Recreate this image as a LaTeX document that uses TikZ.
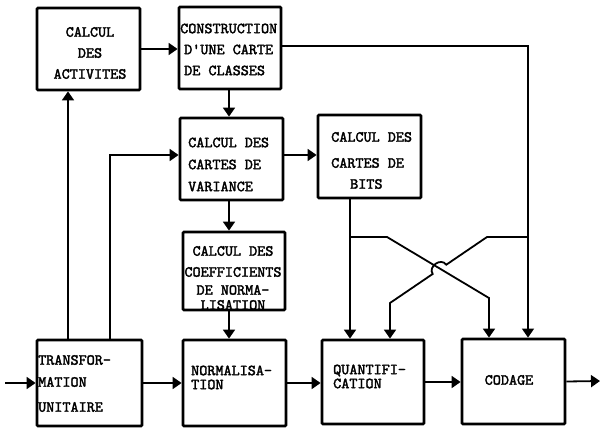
\documentclass[tikz,border=0pt]{standalone}
\usepackage{fontspec}
\newfontfamily\typew{lmmono10-regular}[Extension=.otf, FakeBold=2.2]
\usetikzlibrary{arrows.meta,calc}

\begin{document}
\begin{tikzpicture}[x=1pt, y=-1pt,
  blk/.style={draw, line width=2.8pt, inner sep=0pt, rounded corners=1pt},
  lbl/.style={inner sep=0pt, font=\fontsize{15.4}{21}\selectfont\typew},
  arr/.style={line width=1.8pt, -{Triangle[width=12pt,length=9pt]}}]

\useasboundingbox (0,0) rectangle (602,428);

% Blocks
\node[blk, minimum width=103pt, minimum height=82pt] (act)   at (88.5,49)     {};
\node[blk, minimum width=102pt, minimum height=82pt] (cons)  at (230,48)      {};
\node[blk, minimum width=103pt, minimum height=82pt] (var)   at (231.5,159)   {};
\node[blk, minimum width=103pt, minimum height=83pt] (bits)  at (369.5,156.5) {};
\node[blk, minimum width=102pt, minimum height=78pt] (coef)  at (234,271)     {};
\node[blk, minimum width=105pt, minimum height=86pt] (trans) at (89.5,383)    {};
\node[blk, minimum width=103pt, minimum height=86pt] (norm)  at (234.5,383)   {};
\node[blk, minimum width=102pt, minimum height=84pt] (quant) at (373,382)     {};
\node[blk, minimum width=103pt, minimum height=85pt] (cod)   at (513.5,381.5) {};

% Texts
\node[lbl, align=center] (actT) at (90,53) {CALCUL\\DES\\ACTIVITES};
\node[lbl, align=left, anchor=west] (consT) at (180,49.5)
  {CONSTRUCTION\\\hspace*{4pt}D'UNE CARTE\\\hspace*{4pt}DE CLASSES};
\node[lbl, align=left, anchor=west] (varT) at (188,164.5)
  {CALCUL DES\\[1pt]CARTES DE\\[1pt]VARIANCE};
\node[lbl, align=left, anchor=west] (bitsT) at (331,160.5)
  {CALCUL DES\\[5pt]CARTES DE\\\hspace*{19pt}BITS};
\node[lbl, align=center] (coefT) at (233,278)
  {CALCUL DES\\COEFFICIENTS\\[-3pt]DE NORMA-\\[-6pt]LISATION};
\node[lbl, align=left, anchor=west] (transT) at (38,383.5)
  {TRANSFOR-\\[1pt]MATION\\[4pt]UNITAIRE};
\node[lbl, align=left, anchor=west] (normT) at (191,377.5) {NORMALISA-\\[-7pt]TION};
\node[lbl, align=left, anchor=west] (quantT) at (333,376.5) {QUANTIFI-\\[-7pt]CATION};
\node[lbl] (codT) at (509,380) {CODAGE};

% Main chain
\coordinate (in) at (5,383);
\coordinate (out) at (600,381);
\draw[arr] (in) -- (trans.west);
\draw[arr] (trans.east) -- (norm.west);
\draw[arr] (norm.east) -- (norm.east -| quant.west);
\draw[arr] (quant.east) -- (quant.east -| cod.west);
\draw[arr] (cod.east) -- (out);

% Upper branches
\coordinate (c1) at (68,0);
\coordinate (c2) at (110,155);
\coordinate (c3) at (229,0);
\draw[arr] (trans.north -| c1) -- (act.south -| c1);
\draw[arr] (trans.north -| c2) -- (c2) -- (c2 -| var.west);
\draw[arr] (act.east) -- (act.east -| cons.west);
\draw[arr] (cons.south -| c3) -- (var.north -| c3);
\draw[arr] (var.south -| c3) -- (coef.north -| c3);
\draw[arr] (coef.south -| c3) -- (norm.north -| c3);
\draw[arr] (c2 -| var.east) -- (c2 -| bits.west);

% Class map to coder
\coordinate (r1) at (528,46);
\draw[arr, line width=1.4pt] (cons.east |- r1) -- (r1) -- (r1 |- cod.north);

% Bit maps, crossing over
\coordinate (q1) at (350,237);
\coordinate (k1) at (387,237);
\coordinate (k2) at (489,298);
\coordinate (k3) at (487,237);
\coordinate (k4) at (390,303);
\coordinate (h1) at ($(k3)!0.42!(k4)$);
\coordinate (h2) at ($(k3)!0.56!(k4)$);
\draw[arr] (bits.south -| q1) -- (quant.north -| q1);
\draw[arr] (q1) -- (k1) -- (k2) -- (k2 |- cod.north);
\draw[arr] (r1 |- k3) -- (k3) -- (h1)
  .. controls ($(h1)+(-5,-7.5)$) and ($(h2)+(-5,-7.5)$) .. (h2)
  -- (k4) -- (k4 |- quant.north);

\end{tikzpicture}
\end{document}
